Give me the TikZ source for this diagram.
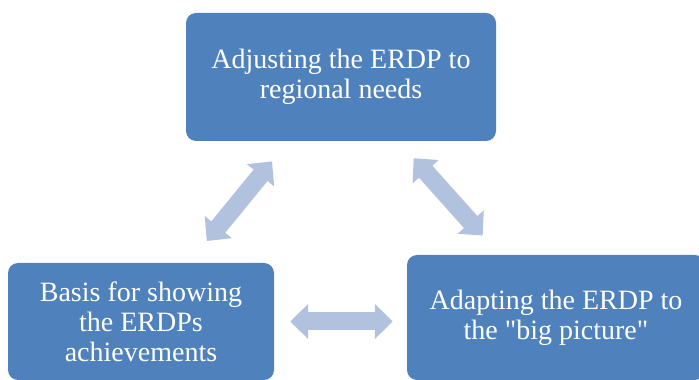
\documentclass[tikz,border=0pt]{standalone}
\usepackage{fontspec}
\setmainfont{Liberation Serif}[Ligatures=TeXOff]
\usepackage{xcolor}
\usepackage{tikz}
\usetikzlibrary{arrows.meta,positioning,calc}
\definecolor{boxblue}{HTML}{4F81BD}
\definecolor{arrowblue}{HTML}{B0C2DE}

\begin{document}
\begin{tikzpicture}[
      x=1pt, y=1pt,
      box/.style={fill=boxblue, rounded corners=10pt, text=white, align=center,
                  font=\fontsize{28}{30}\selectfont, inner sep=0pt},
      dbl/.style={draw=arrowblue, line width=18pt,
                  {Triangle[length=18pt, width=34pt]}-{Triangle[length=18pt, width=34pt]}}
  ]
    \useasboundingbox (0,0) rectangle (699,380);
    \node[box, minimum width=310pt, minimum height=128pt] (adjust) at (341,303)
      {Adjusting the ERDP to\\regional needs};
    \node[box, minimum width=266pt, minimum height=117pt] (basis) at (141,58.5)
      {Basis for showing\\the ERDPs\\achievements};
    \node[box, minimum width=298pt, minimum height=125pt] (bigpic) at (556,62.5)
      {Adapting the ERDP to\\the "big picture"};
    \draw[dbl, shorten <=109pt, shorten >=104pt] (adjust.center) -- (basis.center);
    \draw[dbl, shorten <=109pt, shorten >=110pt] (adjust.center) -- (bigpic.center);
    \draw[dbl, shorten <=16pt, shorten >=14pt] (basis.east) -- (basis.east -| bigpic.west);
  \end{tikzpicture}
\end{document}
